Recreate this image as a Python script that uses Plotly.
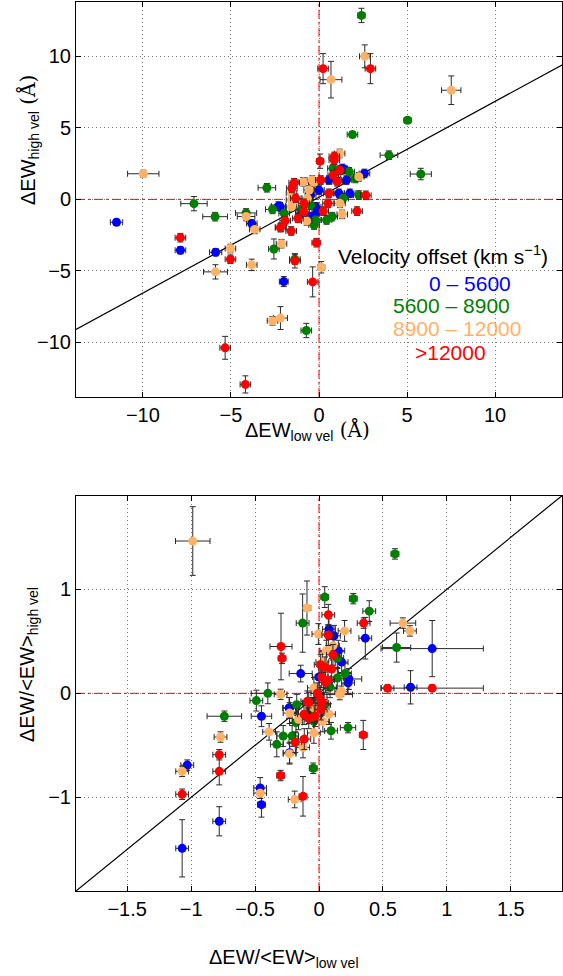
import plotly.graph_objects as go

# ---------------- data: (x, y, x_err, y_err) ----------------
TOP_BLUE = [(-11.5, -1.6, 0.35, 0.2), (-7.87, -3.56, 0.3, 0.25), (-5.87, -3.7, 0.35, 0.25),
            (-3.82, -1.68, 0.3, 0.25), (-2.3, -0.47, 0.4, 0.3), (-2.2, -0.52, 0.3, 0.3),
            (-2.0, -5.75, 0.25, 0.35), (-0.47, 0.3, 0.3, 0.3), (0.0, 0.65, 0.3, 0.3),
            (1.13, 0.42, 0.3, 0.3), (1.75, 0.42, 0.3, 0.3), (0.56, 1.35, 0.3, 0.3),
            (1.56, 1.35, 0.3, 0.3), (1.41, 2.09, 0.3, 0.3), (2.58, 1.81, 0.3, 0.3),
            (-0.19, -0.52, 0.3, 0.3), (-0.1, -0.87, 0.3, 0.3), (-0.47, -1.21, 0.3, 0.3),
            (1.32, 2.16, 0.3, 0.3), (-1.03, -0.98, 0.3, 0.3)]
TOP_GREEN = [(-7.1, -0.3, 0.75, 0.5), (-5.9, -1.21, 0.7, 0.3), (-4.14, -0.95, 0.6, 0.3),
             (-2.96, 0.81, 0.5, 0.3), (-2.64, -0.7, 0.4, 0.3), (-2.56, -3.47, 0.3, 0.7),
             (-1.37, -4.19, 0.3, 0.35), (-0.72, -9.17, 0.3, 0.5), (2.41, 12.86, 0.2, 0.5),
             (5.03, 5.53, 0.2, 0.2), (1.9, 4.53, 0.3, 0.2), (3.97, 3.09, 0.5, 0.3),
             (5.78, 1.77, 0.6, 0.4), (0.79, 2.16, 0.3, 0.3), (1.71, 1.93, 0.3, 0.3),
             (2.07, 1.46, 0.3, 0.3), (1.37, 0.07, 0.3, 0.3), (2.26, 0.3, 0.3, 0.3),
             (0.43, -1.44, 0.3, 0.3), (0.75, -1.21, 0.3, 0.3), (-0.19, -1.44, 0.3, 0.3),
             (-0.28, -1.79, 0.3, 0.3), (-1.03, -0.75, 0.3, 0.3), (-1.98, -0.98, 0.3, 0.3),
             (-0.47, -0.4, 0.3, 0.3)]
TOP_ORANGE = [(-9.98, 1.79, 0.89, 0.25), (-4.14, -1.2, 0.5, 0.3), (-3.65, -2.1, 0.3, 0.3),
              (-5.03, -3.44, 0.3, 0.3), (-5.88, -5.07, 0.68, 0.5), (-3.82, -4.58, 0.3, 0.4),
              (-2.13, -3.1, 0.3, 0.3), (-2.64, -8.49, 0.3, 0.3), (-2.19, -8.3, 0.4, 0.8),
              (0.13, -4.75, 0.2, 0.4), (1.32, -1.05, 0.3, 0.3), (2.6, 10.0, 0.3, 0.8),
              (0.68, 8.37, 0.62, 1.28), (7.51, 7.63, 0.55, 1.0), (1.17, 3.21, 0.3, 0.3),
              (2.26, 1.58, 0.3, 0.3), (0.94, 1.58, 0.3, 0.3), (-0.38, 1.35, 0.3, 0.3),
              (-0.89, 1.23, 0.3, 0.3), (-1.56, 0.42, 0.3, 0.3), (-1.56, -0.05, 0.3, 0.3),
              (-1.56, -0.52, 0.3, 0.3), (1.19, -0.28, 0.3, 0.3), (-0.7, -1.51, 0.3, 0.3),
              (-2.16, -1.95, 0.3, 0.3), (-0.66, 0.07, 0.3, 0.3), (-0.28, 1.2, 0.3, 0.3),
              (-0.56, 0.65, 0.3, 0.3)]
TOP_RED = [(-7.87, -2.68, 0.3, 0.3), (-5.03, -4.19, 0.3, 0.3), (-5.33, -10.38, 0.3, 0.8),
           (-4.18, -12.94, 0.3, 0.6), (-0.36, -5.77, 0.3, 1.05), (-0.15, -3.03, 0.25, 0.3),
           (-1.37, -4.3, 0.3, 0.5), (-2.19, -1.98, 0.3, 0.3), (-1.92, -1.49, 0.3, 0.3),
           (-1.58, -2.21, 0.3, 0.3), (-1.2, -1.33, 0.3, 0.3), (2.16, -0.82, 0.3, 0.3),
           (2.66, 0.28, 0.3, 0.3), (0.23, 9.14, 0.3, 1.05), (2.92, 9.14, 0.3, 1.05),
           (0.06, 2.67, 0.2, 0.5), (0.87, 3.0, 0.3, 0.3), (0.87, 2.74, 0.3, 0.3),
           (0.81, 1.7, 0.3, 0.3), (1.19, 2.04, 0.3, 0.3), (1.03, 1.23, 0.3, 0.3),
           (0.1, 1.35, 0.3, 0.3), (-1.41, 1.16, 0.3, 0.3), (-1.54, 0.77, 0.3, 0.3),
           (-1.32, 0.07, 0.3, 0.3), (0.56, 0.42, 0.3, 0.3), (0.51, -0.28, 0.3, 0.3),
           (0.24, -0.82, 0.3, 0.3), (-0.85, -0.28, 0.3, 0.3), (-0.85, -0.87, 0.3, 0.3)]

BOT_BLUE = [(-0.143, 0.19, 0.09, 0.08), (-1.03, -0.69, 0.05, 0.05), (-0.78, -1.23, 0.05, 0.14),
            (-1.07, -1.49, 0.05, 0.275), (-0.46, -0.91, 0.05, 0.1), (-0.45, -1.07, 0.03, 0.12),
            (-0.45, -0.22, 0.08, 0.1), (-0.23, -0.57, 0.05, 0.1), (-0.23, -0.14, 0.05, 0.1),
            (0.716, 0.058, 0.05, 0.16), (0.885, 0.43, 0.4, 0.27), (0.362, 0.53, 0.05, 0.2),
            (0.078, 0.617, 0.05, 0.1), (0.117, 0.553, 0.05, 0.1), (0.151, 0.41, 0.05, 0.1),
            (0.177, 0.3, 0.05, 0.1), (0.0, 0.157, 0.05, 0.1), (0.234, 0.138, 0.1, 0.1),
            (0.227, 0.1, 0.05, 0.1), (-0.052, -0.14, 0.05, 0.1), (-0.234, -0.14, 0.05, 0.1)]
BOT_GREEN = [(-0.4, 0.0, 0.13, 0.1), (-0.49, -0.07, 0.05, 0.1), (-0.74, -0.22, 0.135, 0.05),
             (-0.33, -0.49, 0.05, 0.12), (-0.28, -0.41, 0.05, 0.1), (-0.21, -0.41, 0.05, 0.1),
             (-0.18, -0.28, 0.05, 0.1), (-0.08, -0.19, 0.05, 0.1), (-0.045, -0.72, 0.03, 0.05),
             (-0.128, 0.675, 0.05, 0.28), (0.594, 1.34, 0.03, 0.05), (0.268, 0.91, 0.03, 0.05),
             (0.393, 0.79, 0.05, 0.1), (0.045, 0.925, 0.03, 0.1), (0.607, 0.44, 0.11, 0.14),
             (0.094, -0.36, 0.05, 0.08), (0.227, -0.33, 0.06, 0.05), (-0.04, -0.27, 0.05, 0.1),
             (0.143, 0.34, 0.05, 0.1), (0.203, 0.19, 0.05, 0.1), (0.143, 0.147, 0.05, 0.1),
             (0.086, 0.058, 0.05, 0.1), (0.04, -0.11, 0.05, 0.1), (-0.174, -0.11, 0.05, 0.1)]
BOT_ORANGE = [(-0.987, 1.464, 0.135, 0.33), (-0.094, 0.82, 0.03, 0.26), (-0.005, 0.57, 0.05, 0.1),
              (-0.3, -0.01, 0.05, 0.05), (-0.77, -0.42, 0.05, 0.05), (-1.07, -0.75, 0.05, 0.05),
              (-0.46, -0.96, 0.05, 0.05), (-0.19, -1.02, 0.05, 0.08), (-0.39, -0.37, 0.05, 0.08),
              (-0.23, -0.58, 0.05, 0.1), (-0.125, -0.52, 0.05, 0.1), (-0.04, -0.38, 0.05, 0.1),
              (-0.16, -0.25, 0.05, 0.1), (-0.23, -0.19, 0.05, 0.1), (0.656, 0.675, 0.1, 0.05),
              (0.711, 0.6, 0.05, 0.05), (0.2, 0.6, 0.05, 0.1), (0.109, 0.457, 0.05, 0.1),
              (0.057, 0.41, 0.05, 0.1), (0.026, 0.3, 0.05, 0.1), (0.162, -0.012, 0.1, 0.05),
              (0.174, 0.02, 0.05, 0.05), (-0.04, 0.052, 0.05, 0.1), (-0.04, -0.14, 0.05, 0.1),
              (0.03, -0.27, 0.05, 0.1), (0.078, -0.2, 0.05, 0.1)]
BOT_RED = [(-0.297, 0.45, 0.086, 0.32), (-0.289, 0.336, 0.03, 0.05), (-0.78, -0.59, 0.05, 0.05),
           (-0.78, -0.75, 0.05, 0.13), (-1.07, -0.97, 0.05, 0.05), (-0.3, -0.79, 0.03, 0.05),
           (-0.125, -0.99, 0.03, 0.19), (-0.185, -0.47, 0.05, 0.1), (-0.115, -0.44, 0.05, 0.1),
           (-0.08, -0.24, 0.05, 0.1), (-0.03, -0.22, 0.05, 0.1), (-0.08, -0.09, 0.05, 0.1),
           (0.026, -0.09, 0.05, 0.1), (0.346, -0.4, 0.03, 0.14), (0.536, 0.05, 0.05, 0.03),
           (0.885, 0.05, 0.4, 0.03), (0.349, 0.675, 0.05, 0.05), (0.073, 0.755, 0.05, 0.1),
           (0.073, 0.56, 0.05, 0.1), (0.109, 0.37, 0.05, 0.1), (0.013, 0.275, 0.05, 0.1),
           (0.099, 0.234, 0.05, 0.1), (0.047, 0.25, 0.05, 0.1), (0.021, 0.157, 0.05, 0.1),
           (0.052, 0.105, 0.05, 0.1), (0.07, 0.125, 0.05, 0.1), (-0.013, 0.0, 0.05, 0.1),
           (0.013, -0.06, 0.05, 0.1), (0.013, -0.156, 0.05, 0.1), (-0.091, -0.077, 0.05, 0.1),
           (-0.117, -0.2, 0.05, 0.1)]

GROUP_LABELS = ["0 – 5600", "5600 – 8900", "8900 – 12000", ">12000"]
GROUP_COLORS = ["#0000ff", "#008000", "#ffb266", "#ff0000"]

TOP_RANGE = [-13.8, 13.8]
BOT_RANGE = [-1.9, 1.9]
TOP_TICKS = [-10, -5, 0, 5, 10]
BOT_XTICKS = [-1.5, -1, -0.5, 0, 0.5, 1, 1.5]
BOT_YTICKS = [-1, 0, 1]
FIT_SLOPE, FIT_INTERCEPT = 0.67, 0.15
FONT = "Liberation Sans, Arial, sans-serif"

fig = go.Figure()

def add_group(pts, color, xa, ya):
    fig.add_trace(go.Scatter(
        x=[p[0] for p in pts], y=[p[1] for p in pts], mode="markers",
        xaxis=xa, yaxis=ya, showlegend=False,
        marker=dict(color=color, size=9, line=dict(width=0)),
        error_x=dict(type="data", array=[p[2] for p in pts], color="#2a2a2a", thickness=1, width=3),
        error_y=dict(type="data", array=[p[3] for p in pts], color="#2a2a2a", thickness=1, width=3),
    ))

# reference lines
for xa, ya, rng, slope, icpt in [("x", "y", TOP_RANGE, FIT_SLOPE, FIT_INTERCEPT),
                                 ("x2", "y2", BOT_RANGE, 1.0, 0.0)]:
    fig.add_trace(go.Scatter(x=[0, 0], y=rng, mode="lines", xaxis=xa, yaxis=ya, showlegend=False,
                             line=dict(color="red", width=1, dash="dashdot"), hoverinfo="skip"))
    fig.add_trace(go.Scatter(x=rng, y=[0, 0], mode="lines", xaxis=xa, yaxis=ya, showlegend=False,
                             line=dict(color="red", width=1, dash="dashdot"), hoverinfo="skip"))
    fig.add_trace(go.Scatter(x=rng, y=[slope * v + icpt for v in rng], mode="lines", xaxis=xa, yaxis=ya,
                             showlegend=False, line=dict(color="black", width=1.2), hoverinfo="skip"))

for pts, c in zip([TOP_BLUE, TOP_GREEN, TOP_ORANGE, TOP_RED], GROUP_COLORS):
    add_group(pts, c, "x", "y")
for pts, c in zip([BOT_BLUE, BOT_GREEN, BOT_ORANGE, BOT_RED], GROUP_COLORS):
    add_group(pts, c, "x2", "y2")

axis_common = dict(showline=True, linecolor="black", linewidth=1, mirror="ticks",
                   ticks="inside", ticklen=5, tickcolor="black",
                   showgrid=True, gridcolor="#7a7a7a", griddash="1px,3px", gridwidth=1,
                   zeroline=False, tickfont=dict(family=FONT, size=20, color="black"))

fig.update_layout(
    width=563, height=976,
    margin=dict(l=76, r=1, t=2, b=85),
    plot_bgcolor="white", paper_bgcolor="white",
    font=dict(family=FONT, color="black"),
    xaxis=dict(domain=[0, 1], anchor="y", range=TOP_RANGE, tickvals=TOP_TICKS, **axis_common),
    yaxis=dict(domain=[0.556, 1], anchor="x", range=TOP_RANGE, tickvals=TOP_TICKS, **axis_common),
    xaxis2=dict(domain=[0, 1], anchor="y2", range=BOT_RANGE, tickvals=BOT_XTICKS, **axis_common),
    yaxis2=dict(domain=[0, 0.4447], anchor="x2", range=BOT_RANGE, tickvals=BOT_YTICKS, **axis_common),
)

serif = "<span style='font-family:DejaVu Serif, Liberation Serif, serif'> (Å)</span>"
annos = [
    dict(text="ΔEW<sub>low vel</sub>" + serif, x=307, y=431, textangle=0),
    dict(text="ΔEW<sub>high vel</sub>" + serif, x=28, y=140, textangle=-90),
    dict(text="ΔEW/&lt;EW&gt;<sub>low vel</sub>", x=284, y=958, textangle=0),
    dict(text="ΔEW/&lt;EW&gt;<sub>high vel</sub>", x=28, y=665, textangle=-90),
]
for a in annos:
    fig.add_annotation(text=a["text"], xref="paper", yref="paper",
                       x=(a["x"] - 76) / 486, y=1 - (a["y"] - 2) / 889,
                       xanchor="center", yanchor="middle", textangle=a["textangle"],
                       showarrow=False, font=dict(family=FONT, size=20, color="black"))

legend_pos = [(443, 255, "black", "Velocity offset (km s<sup>−1</sup>)")]
for (xc, yc), lbl, col in zip([(470, 283), (451, 305), (457, 328), (450, 353)], GROUP_LABELS, GROUP_COLORS):
    legend_pos.append((xc, yc, col, lbl))
for xc, yc, col, txt in legend_pos:
    fig.add_annotation(text=txt, xref="paper", yref="paper",
                       x=(xc - 76) / 486, y=1 - (yc - 2) / 889,
                       xanchor="center", yanchor="middle", showarrow=False,
                       font=dict(family=FONT, size=21, color=col))

fig.write_html("out.html")
